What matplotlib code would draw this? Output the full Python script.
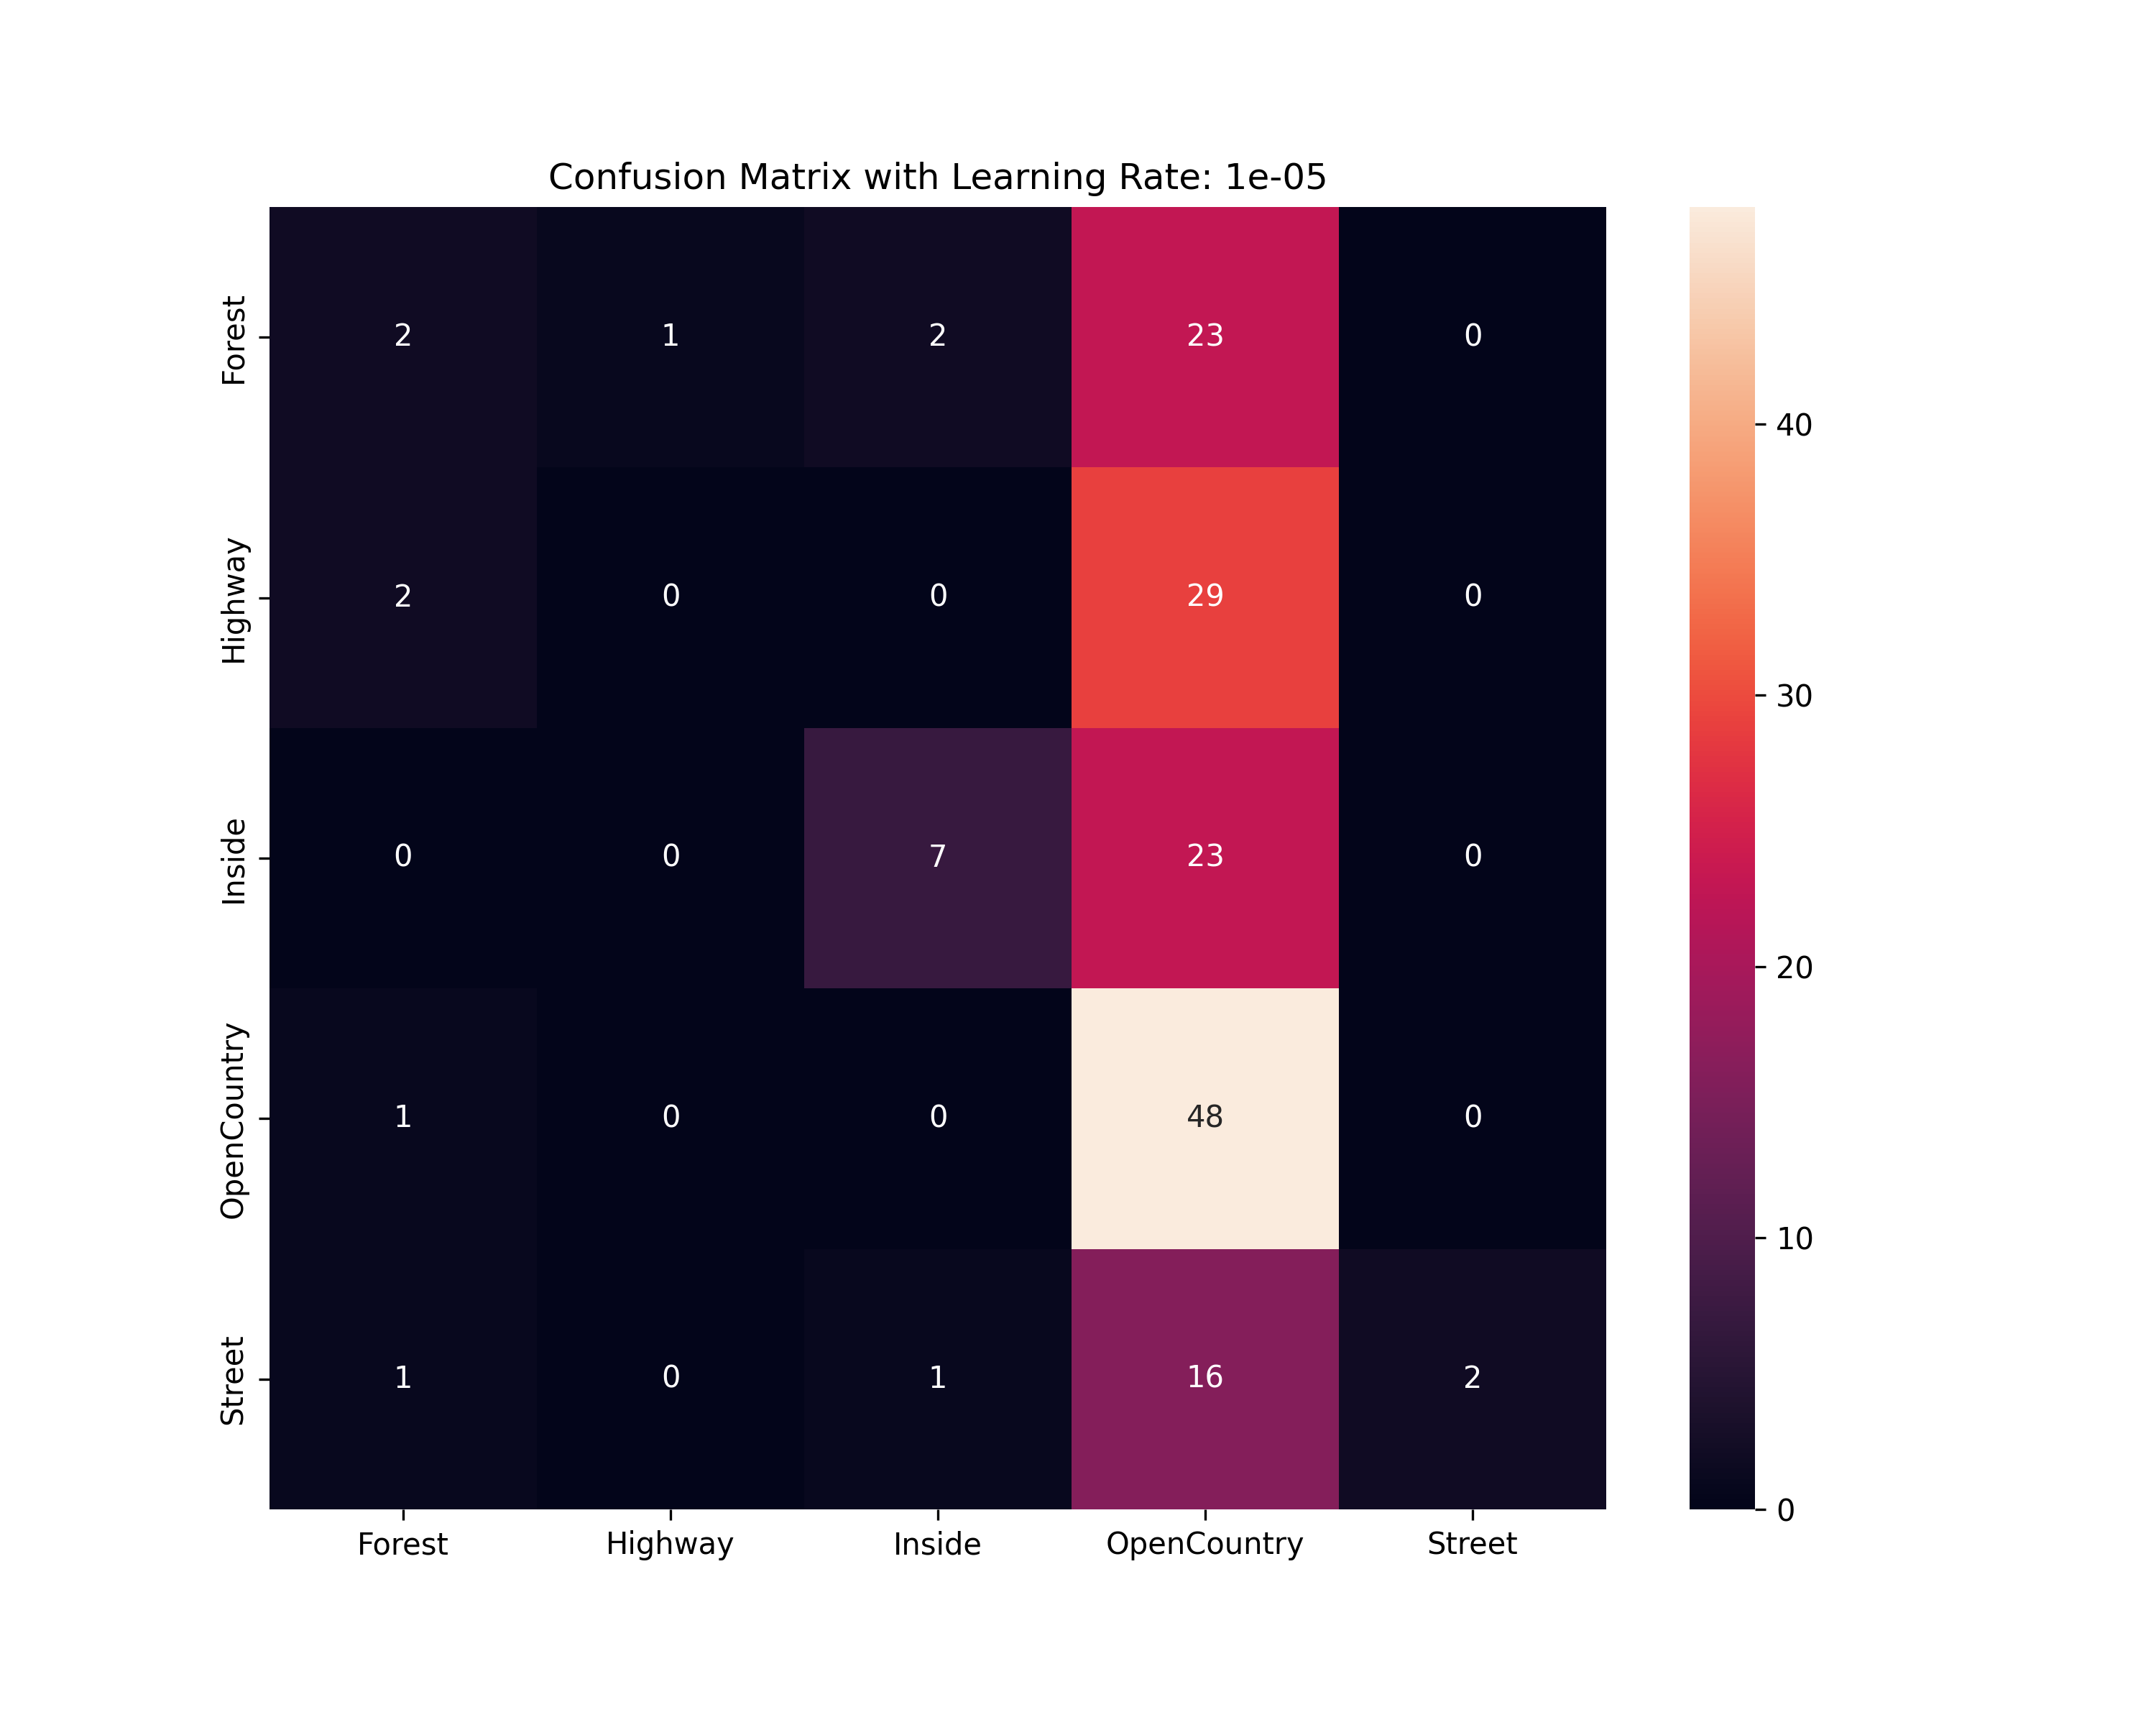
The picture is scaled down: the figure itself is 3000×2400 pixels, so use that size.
import matplotlib
matplotlib.use("Agg")
import matplotlib.pyplot as plt
import seaborn as sns
import numpy as np

labels = ["Forest", "Highway", "Inside", "OpenCountry", "Street"]
row_forest = [2, 1, 2, 23, 0]
row_highway = [2, 0, 0, 29, 0]
row_inside = [0, 0, 7, 23, 0]
row_opencountry = [1, 0, 0, 48, 0]
row_street = [1, 0, 1, 16, 2]

cm = np.array([row_forest, row_highway, row_inside, row_opencountry, row_street])

fig, ax = plt.subplots(figsize=(10, 8), dpi=300)
fig.subplots_adjust(bottom=0.125)
sns.heatmap(cm, annot=True, fmt="d", xticklabels=labels, yticklabels=labels, ax=ax)
ax.set_title("Confusion Matrix with Learning Rate: 1e-05")
fig.savefig("out.png", dpi=300)
